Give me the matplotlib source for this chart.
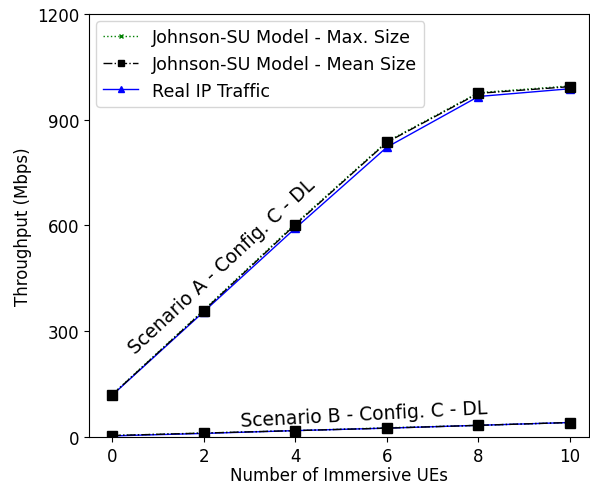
import matplotlib.pyplot as plt

# number of immersive UEs
ues = [0, 2, 4, 6, 8, 10]

# scenario A - config C - DL
a_max = [120, 360, 605, 838, 977, 996]
a_mean = [119, 358, 602, 836, 975, 994]
a_real = [118, 355, 592, 822, 966, 988]

# scenario B - config C - DL
b_max = [4, 11, 18, 26, 33, 41]
b_mean = [4, 11, 18, 25, 33, 41]
b_real = [3, 10, 18, 25, 33, 41]

fig, ax = plt.subplots(figsize=(5.9, 4.85), dpi=100)
fig.subplots_adjust(left=0.151, right=0.998, top=0.969, bottom=0.097)

# black squares drawn last so they sit on top
ax.plot(ues, a_max, ':', color='green', marker='x', markersize=4, lw=1, label='Johnson-SU Model - Max. Size', zorder=2)
ax.plot(ues, a_real, '-', color='blue', marker='^', markersize=6, lw=1, label='Real IP Traffic', zorder=3)
ax.plot(ues, a_mean, '-.', color='black', marker='s', markersize=7, lw=1, label='Johnson-SU Model - Mean Size', zorder=4)

ax.plot(ues, b_max, ':', color='green', marker='x', markersize=4, lw=1, zorder=2)
ax.plot(ues, b_real, '-', color='blue', marker='^', markersize=6, lw=1, zorder=3)
ax.plot(ues, b_mean, '-.', color='black', marker='s', markersize=7, lw=1, zorder=4)

ax.text(2.4, 485, 'Scenario A - Config. C - DL', fontsize=13.5, rotation=43,
        ha='center', va='center')
ax.text(5.5, 65, 'Scenario B - Config. C - DL', fontsize=13.5, rotation=3,
        ha='center', va='center')

ax.set_xlim(-0.5, 10.41)
ax.set_ylim(0, 1200)
ax.set_xticks([0, 2, 4, 6, 8, 10])
ax.set_yticks([0, 300, 600, 900, 1200])
ax.tick_params(labelsize=12)
ax.set_xlabel('Number of Immersive UEs', fontsize=12, labelpad=1)
ax.set_ylabel('Throughput (Mbps)', fontsize=12)

handles, labels = ax.get_legend_handles_labels()
order = [0, 2, 1]
ax.legend([handles[i] for i in order], [labels[i] for i in order],
          loc='upper left', fontsize=12.6, handlelength=2, markerscale=0.7,
          borderaxespad=0.4, handletextpad=0.8)

plt.savefig('out.png')
